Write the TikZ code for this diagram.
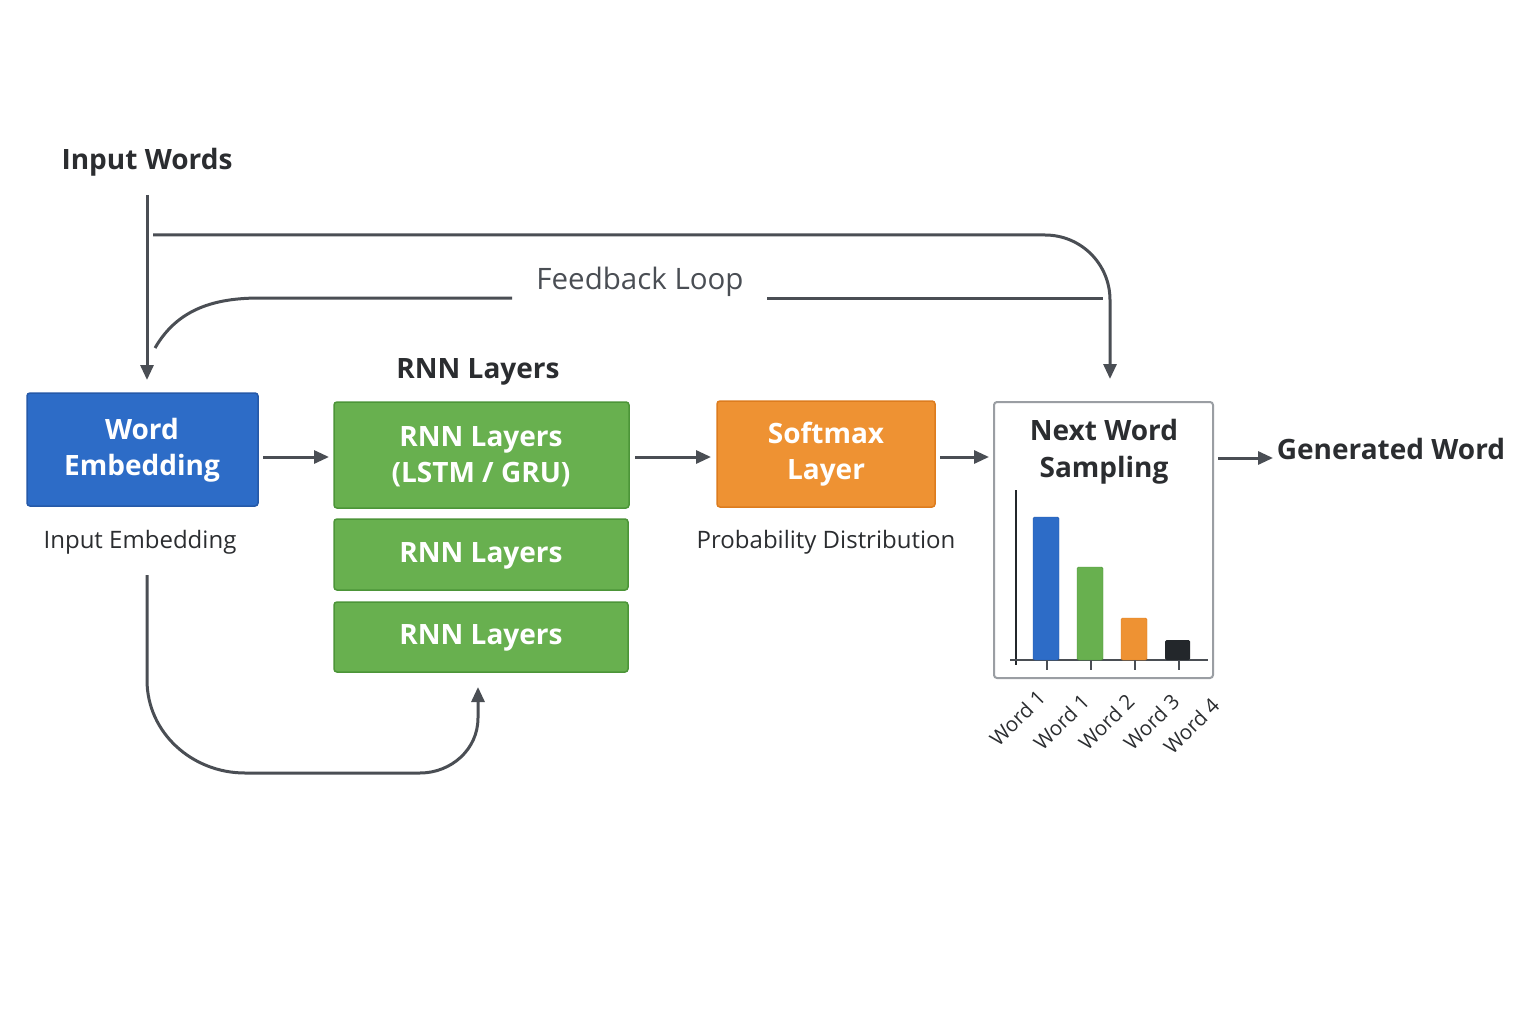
\documentclass[tikz,border=0pt]{standalone}
\usepackage{fontspec}
\setmainfont{Open Sans}
\usetikzlibrary{arrows.meta}
\definecolor{arrowgray}{HTML}{4A4E54}
\definecolor{txt}{HTML}{2B2D30}
\definecolor{blueb}{HTML}{2D6CC7}
\definecolor{bluebd}{HTML}{2559A8}
\definecolor{greenb}{HTML}{68B04F}
\definecolor{greenbd}{HTML}{4C9538}
\definecolor{orangeb}{HTML}{EE9233}
\definecolor{orangebd}{HTML}{DD7C1E}
\definecolor{boxgray}{HTML}{9A9EA3}
\definecolor{barblack}{HTML}{23272B}
\tikzset{
  conn/.style={draw=arrowgray, line width=3pt, -{Triangle[length=15pt,width=13pt]}},
  plain/.style={draw=arrowgray, line width=3pt},
  boxtxt/.style={font=\fontsize{28}{36}\selectfont\bfseries, text=white, align=center},
  blk/.style={rounded corners=3pt, line width=1.5pt, boxtxt},
  lbl/.style={font=\fontsize{24}{28}\selectfont, text=txt},
  ttl/.style={font=\fontsize{28}{37}\selectfont\bfseries, text=txt, align=center},
  wlab/.style={font=\fontsize{20.5}{22}\selectfont, text=txt, rotate=45, anchor=north east, inner sep=0pt},
}
\begin{document}
\begin{tikzpicture}[x=1pt,y=-1pt]
\useasboundingbox (0,0) rectangle (1536,1024);
\fill[white] (0,0) rectangle (1536,1024);

% boxes
\draw[blk, fill=blueb, draw=bluebd] (27,393) rectangle (258,506);
\node[boxtxt] (we) at (142,450) {Word\\Embedding};

\draw[blk, fill=greenb, draw=greenbd] (334,402) rectangle (629,508);
\node[boxtxt] (r1) at (481,457) {RNN Layers\\(LSTM / GRU)};
\draw[blk, fill=greenb, draw=greenbd] (334,519) rectangle (628,590);
\node[boxtxt] (r2) at (481,556) {RNN Layers};
\draw[blk, fill=greenb, draw=greenbd] (334,602) rectangle (628,672);
\node[boxtxt] (r3) at (481,638) {RNN Layers};

\draw[blk, fill=orangeb, draw=orangebd] (717,401) rectangle (935,507);
\node[boxtxt] (sm) at (826,454) {Softmax\\Layer};

\draw[rounded corners=3pt, line width=2pt, draw=boxgray, fill=white] (994,402) rectangle (1213,678);
\node[ttl] (ns) at (1104,452) {Next Word\\Sampling};

% labels
\node[ttl] (iw) at (147,162) {Input Words};
\node[ttl] (rl) at (478,372) {RNN Layers};
\node[lbl] (ie) at (140,542) {Input Embedding};
\node[lbl] (pd) at (826,542) {Probability Distribution};
\node[ttl] (gw) at (1391,449) {Generated Word};
\node[font=\fontsize{29.5}{34}\selectfont, text=arrowgray] (fb) at (640,282) {Feedback Loop};

% chart
\draw[line width=1.5pt, draw=barblack] (1016,490) -- (1016,665);
\draw[line width=1.8pt, draw=arrowgray] (1010,660) -- (1208,660);
\fill[blueb, draw=bluebd, rounded corners=1.5pt] (1033,517) rectangle (1059,660);
\fill[greenb, draw=greenbd, rounded corners=1.5pt] (1077,567) rectangle (1103,660);
\fill[orangeb, draw=orangebd, rounded corners=1.5pt] (1121,618) rectangle (1147,660);
\fill[barblack, rounded corners=1.5pt] (1165,640) rectangle (1190,660);
\foreach \x in {1047,1091,1135,1179} \draw[line width=1.5pt, draw=arrowgray] (\x,660) -- (\x,670);
\node[wlab] (w1) at (1036,688) {Word 1};
\node[wlab] (w2) at (1080,692) {Word 1};
\node[wlab] (w3) at (1125,692) {Word 2};
\node[wlab] (w4) at (1170,692) {Word 3};
\node[wlab] (w5) at (1210,696) {Word 4};

% connectors
\coordinate (iwS) at (147,195);
\coordinate (weN) at (147,380);
\draw[conn] (iwS) -- (weN);

\coordinate (tA) at (153,235);
\coordinate (nsN) at (1110,379);
\draw[conn] (tA) -- (1045,235) to[out=0,in=90] (1110,300) -- (nsN);

\coordinate (fbL) at (512,298);
\coordinate (fbR) at (767,298);
\draw[plain] (155,348) to[out=60,in=180] (260,298) -- (fbL);
\draw[plain] (fbR) -- (1103,298);

\coordinate (rW) at (329,457);
\draw[conn] (263,457) -- (rW);
\coordinate (rE) at (635,457);
\coordinate (smW) at (711,457);
\draw[conn] (rE) -- (smW);
\coordinate (smE) at (940,457);
\coordinate (nsW) at (989,457);
\draw[conn] (smE) -- (nsW);
\coordinate (nsE) at (1218,458);
\coordinate (gwW) at (1273,458);
\draw[conn] (nsE) -- (gwW);

\coordinate (ieS) at (147,575);
\coordinate (r3S) at (478,687);
\draw[conn] (ieS) -- (147,680) to[out=-90,in=180] (245,773) -- (420,773) to[out=0,in=-90] (478,718) -- (r3S);
\end{tikzpicture}
\end{document}
